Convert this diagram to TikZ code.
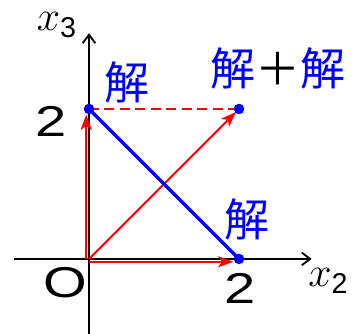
\documentclass[tikz,border=0pt]{standalone}
\usepackage{fontspec}
\setmainfont{Liberation Sans}
\newfontfamily\jpfont{Noto Sans CJK JP}
\usetikzlibrary{arrows.meta,positioning}
\newcommand{\subnum}[1]{\hbox{\fontsize{17}{17}\selectfont #1}}

\begin{document}
\begin{tikzpicture}[x=1.875cm,y=1.875cm,
  axis/.style={line width=1.3pt,-{Straight Barb[length=6pt,width=9pt]}},
  vec/.style={red,line width=1.3pt,-{Stealth[length=11pt,width=8pt,inset=3pt]}},
  dot/.style={circle,fill=blue,inner sep=0pt,minimum size=7.5pt},
  numlab/.style={font=\fontsize{30.7}{32}\selectfont,xscale=1.3,inner sep=0pt},
  mathlab/.style={font=\fontsize{24.88}{26}\selectfont,scale=1.2,inner sep=0pt,anchor=base west},
  sol/.style={blue,font=\fontsize{32}{34}\selectfont\jpfont}]
\useasboundingbox (-1.187,-1.0) rectangle (3.547,3.453);
% points
\coordinate (O) at (0,0);
\coordinate (A) at (2,0);
\coordinate (B) at (0,2);
\coordinate (C) at (2,2);
% axes
\draw[axis] (-1,0) -- (2.97,0) coordinate (xend);
\draw[axis] (0,-1) -- (0,3.01) coordinate (yend);
\node[mathlab] (xlab) at (2.92,-0.373) {$x_{\subnum{2}}$};
\node[mathlab] (ylab) at (-0.70,3.04) {$x_{\subnum{3}}$};
\node[numlab] (olab) at (-0.31,-0.32) {O};
\node[numlab] (alab) at (2.01,-0.39) {2};
\node[numlab] (blab) at (-0.51,1.83) {2};
% vectors
\draw[vec] ([xshift=-2pt]O) -- ([xshift=-2pt,yshift=-4pt]B);
\draw[vec] ([yshift=-2pt]O) -- ([xshift=-4pt,yshift=-2pt]A);
\draw[vec,shorten >=3pt] (O) -- (C);
\draw[red,line width=1.3pt,dash pattern=on 7pt off 4pt] (B) -- (C);
\draw[blue,line width=2.4pt] (B) -- (A);
\foreach \p in {A,B,C}{
  \node[dot] (d\p) at (\p) {};}
% labels
\node[sol] (sb) at (0.51,2.36) {解};
\node[sol] (sa) at (2.11,0.53) {解};
\node[sol] (sc) at (2.52,2.54) {解{\color{black}＋}解};
\end{tikzpicture}
\end{document}
